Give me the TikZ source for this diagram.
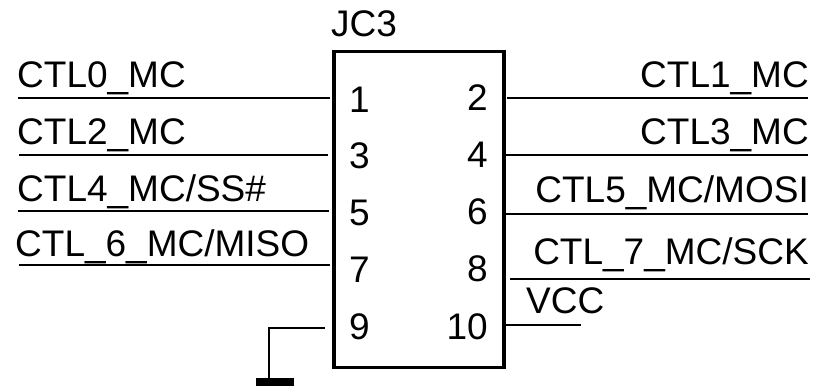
\documentclass[tikz,border=0pt]{standalone}
\usepackage{fontspec}
\setmainfont{Liberation Sans}
\usetikzlibrary{positioning}

\begin{document}
\begin{tikzpicture}[
    x=1pt, y=-1pt,
    wire/.style={line width=2pt},
    netlabel/.style={font=\fontsize{37}{44}\selectfont, inner sep=0pt},
    pinnum/.style={font=\fontsize{37}{44}\selectfont, inner sep=0pt}
]
    \useasboundingbox (0,0) rectangle (814,386);

    % === Connector body ===
    \node[draw, line width=3.5pt, minimum width=170pt, minimum height=316pt,
          inner sep=0pt] (jc3) at (419,209.5) {};
    \node[netlabel, anchor=base west] (refdes) at (331,36) {JC3};

    % Pin numbers
    \node[pinnum, anchor=base west] (n1) at (349,112) {1};
    \node[pinnum, anchor=base west] (n3) at (349,168) {3};
    \node[pinnum, anchor=base west] (n5) at (349,225) {5};
    \node[pinnum, anchor=base west] (n7) at (349,282) {7};
    \node[pinnum, anchor=base west] (n9) at (349,339) {9};
    \node[pinnum, anchor=base east] (n2) at (488,110) {2};
    \node[pinnum, anchor=base east] (n4) at (488,167) {4};
    \node[pinnum, anchor=base east] (n6) at (488,224) {6};
    \node[pinnum, anchor=base east] (n8) at (488,281) {8};
    \node[pinnum, anchor=base east] (n10) at (488,339) {10};

    % === Pin ends at the body ===
    \coordinate (p1) at (330,98);
    \coordinate (p3) at (328,155);
    \coordinate (p5) at (329,211);
    \coordinate (p7) at (330,265);
    \coordinate (p9) at (325,328);
    \coordinate (p2) at (507,98);
    \coordinate (p4) at (506,155);
    \coordinate (p6) at (506,214);
    \coordinate (p8) at (510,279);
    \coordinate (p10) at (506,325);

    % Free wire ends
    \coordinate (w1) at (18,98);
    \coordinate (w3) at (19,155);
    \coordinate (w5) at (18,211);
    \coordinate (w7) at (19,265);
    \coordinate (w2) at (808,98);
    \coordinate (w4) at (808,155);
    \coordinate (w6) at (808,214);
    \coordinate (w8) at (810,279);
    \coordinate (w10) at (581,325);

    % === Wires ===
    \draw[wire] (p1) -- (w1);
    \draw[wire] (p3) -- (w3);
    \draw[wire] (p5) -- (w5);
    \draw[wire] (p7) -- (w7);
    \draw[wire] (p2) -- (w2);
    \draw[wire] (p4) -- (w4);
    \draw[wire] (p6) -- (w6);
    \draw[wire] (p8) -- (w8);
    \draw[wire] (p10) -- (w10);

    % === Net labels ===
    \node[netlabel, anchor=base west] (ctl0) at (17,87) {CTL0\_MC};
    \node[netlabel, anchor=base west] (ctl2) at (17,144) {CTL2\_MC};
    \node[netlabel, anchor=base west] (ctl4) at (17,201) {CTL4\_MC/SS\#};
    \node[netlabel, anchor=base west] (ctl6) at (15,256) {CTL\_6\_MC/MISO};
    \node[netlabel, anchor=base east] (ctl1) at (809,87) {CTL1\_MC};
    \node[netlabel, anchor=base east] (ctl3) at (809,144) {CTL3\_MC};
    \node[netlabel, anchor=base east] (ctl5) at (809,202) {CTL5\_MC/MOSI};
    \node[netlabel, anchor=base east] (ctl7) at (809,264) {CTL\_7\_MC/SCK};
    \node[netlabel, anchor=base west] (vcc) at (526,313) {VCC};

    % === Ground on pin 9 ===
    \coordinate (g9) at (269,328);
    \coordinate (gnd) at (269,379);
    \draw[wire] (p9) -- (g9) -- (gnd);
    \fill (256,378) rectangle (294,386);

\end{tikzpicture}
\end{document}
